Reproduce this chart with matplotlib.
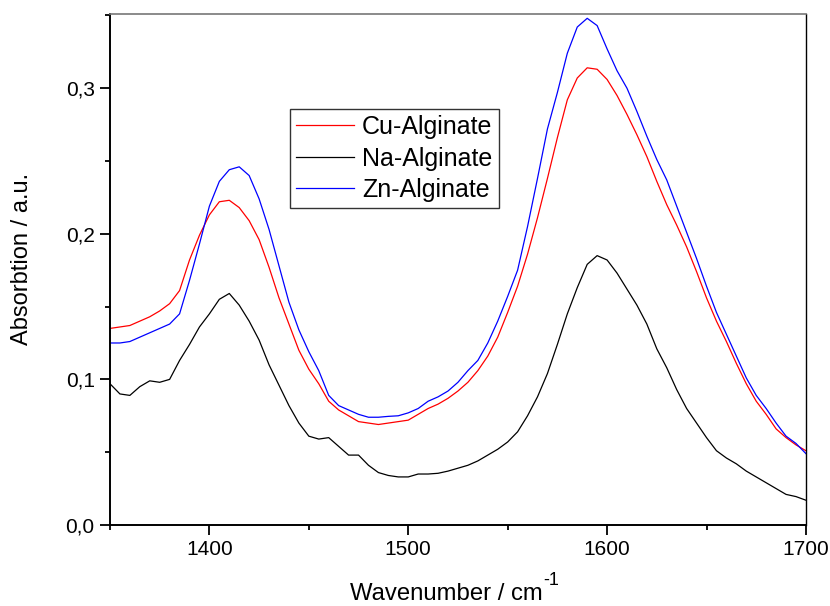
import matplotlib
matplotlib.use("Agg")
import matplotlib.pyplot as plt
from matplotlib.ticker import MultipleLocator, FuncFormatter

plt.rcParams['font.family'] = ['Liberation Sans', 'DejaVu Sans']

wavenumber = list(range(1350, 1701, 5))

cu_alginate = [0.135, 0.136, 0.137, 0.140, 0.143, 0.147, 0.152, 0.161, 0.182, 0.199,
               0.213, 0.222, 0.223, 0.218, 0.209, 0.196, 0.177, 0.156, 0.138, 0.120,
               0.107, 0.097, 0.085, 0.079, 0.075, 0.071, 0.070, 0.069, 0.070, 0.071,
               0.072, 0.076, 0.080, 0.083, 0.087, 0.092, 0.098, 0.106, 0.116, 0.129,
               0.146, 0.164, 0.186, 0.211, 0.238, 0.266, 0.292, 0.307, 0.314, 0.313,
               0.306, 0.295, 0.282, 0.268, 0.253, 0.236, 0.220, 0.206, 0.191, 0.174,
               0.156, 0.140, 0.126, 0.111, 0.097, 0.085, 0.076, 0.066, 0.060, 0.055,
               0.051]

na_alginate = [0.097, 0.090, 0.089, 0.095, 0.099, 0.098, 0.100, 0.113, 0.124, 0.136,
               0.145, 0.155, 0.159, 0.151, 0.140, 0.127, 0.110, 0.096, 0.082, 0.070,
               0.061, 0.059, 0.060, 0.054, 0.048, 0.048, 0.041, 0.036, 0.034, 0.033,
               0.033, 0.035, 0.035, 0.0355, 0.037, 0.039, 0.041, 0.044, 0.048, 0.052,
               0.057, 0.064, 0.075, 0.088, 0.104, 0.124, 0.145, 0.163, 0.179, 0.185,
               0.182, 0.173, 0.162, 0.151, 0.138, 0.121, 0.108, 0.093, 0.080, 0.070,
               0.060, 0.051, 0.046, 0.042, 0.037, 0.033, 0.029, 0.025, 0.021, 0.0195,
               0.017]

zn_alginate = [0.125, 0.125, 0.126, 0.129, 0.132, 0.135, 0.138, 0.145, 0.168, 0.193,
               0.219, 0.236, 0.244, 0.246, 0.240, 0.224, 0.203, 0.178, 0.153, 0.134,
               0.119, 0.106, 0.089, 0.082, 0.079, 0.076, 0.074, 0.074, 0.0746, 0.075,
               0.077, 0.080, 0.085, 0.088, 0.092, 0.098, 0.106, 0.113, 0.125, 0.140,
               0.157, 0.175, 0.205, 0.238, 0.272, 0.297, 0.324, 0.342, 0.348, 0.343,
               0.327, 0.312, 0.300, 0.284, 0.267, 0.251, 0.237, 0.219, 0.201, 0.183,
               0.164, 0.146, 0.131, 0.116, 0.101, 0.089, 0.080, 0.070, 0.061, 0.056,
               0.049]

series = [("Cu-Alginate", cu_alginate, "#ff0000"),
          ("Na-Alginate", na_alginate, "#000000"),
          ("Zn-Alginate", zn_alginate, "#0000ff")]

W, H = 830, 606
fig = plt.figure(figsize=(W / 100, H / 100), dpi=100)
ax = fig.add_axes([0.1325, 0.1337, 0.8385, 0.8433])

for name, vals, col in series:
    ax.plot(wavenumber, vals, color=col, lw=0.9, label=name)

ax.set_xlim(1350, 1700)
ax.set_ylim(0, 0.351)
ax.xaxis.set_major_locator(MultipleLocator(100))
ax.xaxis.set_minor_locator(MultipleLocator(50))
ax.yaxis.set_major_locator(MultipleLocator(0.1))
ax.yaxis.set_minor_locator(MultipleLocator(0.05))
ax.yaxis.set_major_formatter(FuncFormatter(lambda v, p: f"{v:.1f}".replace('.', ',')))

ax.tick_params(which='major', direction='out', length=7, width=1.3, labelsize=15, pad=4)
ax.tick_params(which='minor', direction='out', length=3.6, width=1.3)
ax.tick_params(top=False, right=False, which='both')

for s in ['left', 'bottom']:
    ax.spines[s].set_linewidth(1.4)
    ax.spines[s].set_color('black')
ax.spines['top'].set_color('#777777')
ax.spines['top'].set_linewidth(1.2)
ax.spines['right'].set_color('black')
ax.spines['right'].set_linewidth(1.0)

ax.set_ylabel("Absorbtion / a.u.", fontsize=17)
ax.yaxis.set_label_coords(-0.111, 0.52)

# x label: main text plus hyphen-style superscript, as in the original
xl = fig.text(350 / W, 6 / H, "Wavenumber / cm", fontsize=17.2, ha='left', va='baseline')

leg = ax.legend(loc='upper left', bbox_to_anchor=(0.2586, 0.814), borderaxespad=0,
                fancybox=False, edgecolor='#333333', framealpha=1, fontsize=18,
                handlelength=2.3, handletextpad=0.33, labelspacing=0.3,
                borderpad=0.25)
leg.get_frame().set_linewidth(1.0)

fig.canvas.draw()
bb = xl.get_window_extent()
fig.text((bb.x1 + 0.5) / W, 21 / H, "-1", fontsize=13, ha='left', va='baseline')

fig.savefig("out.png", dpi=100)
